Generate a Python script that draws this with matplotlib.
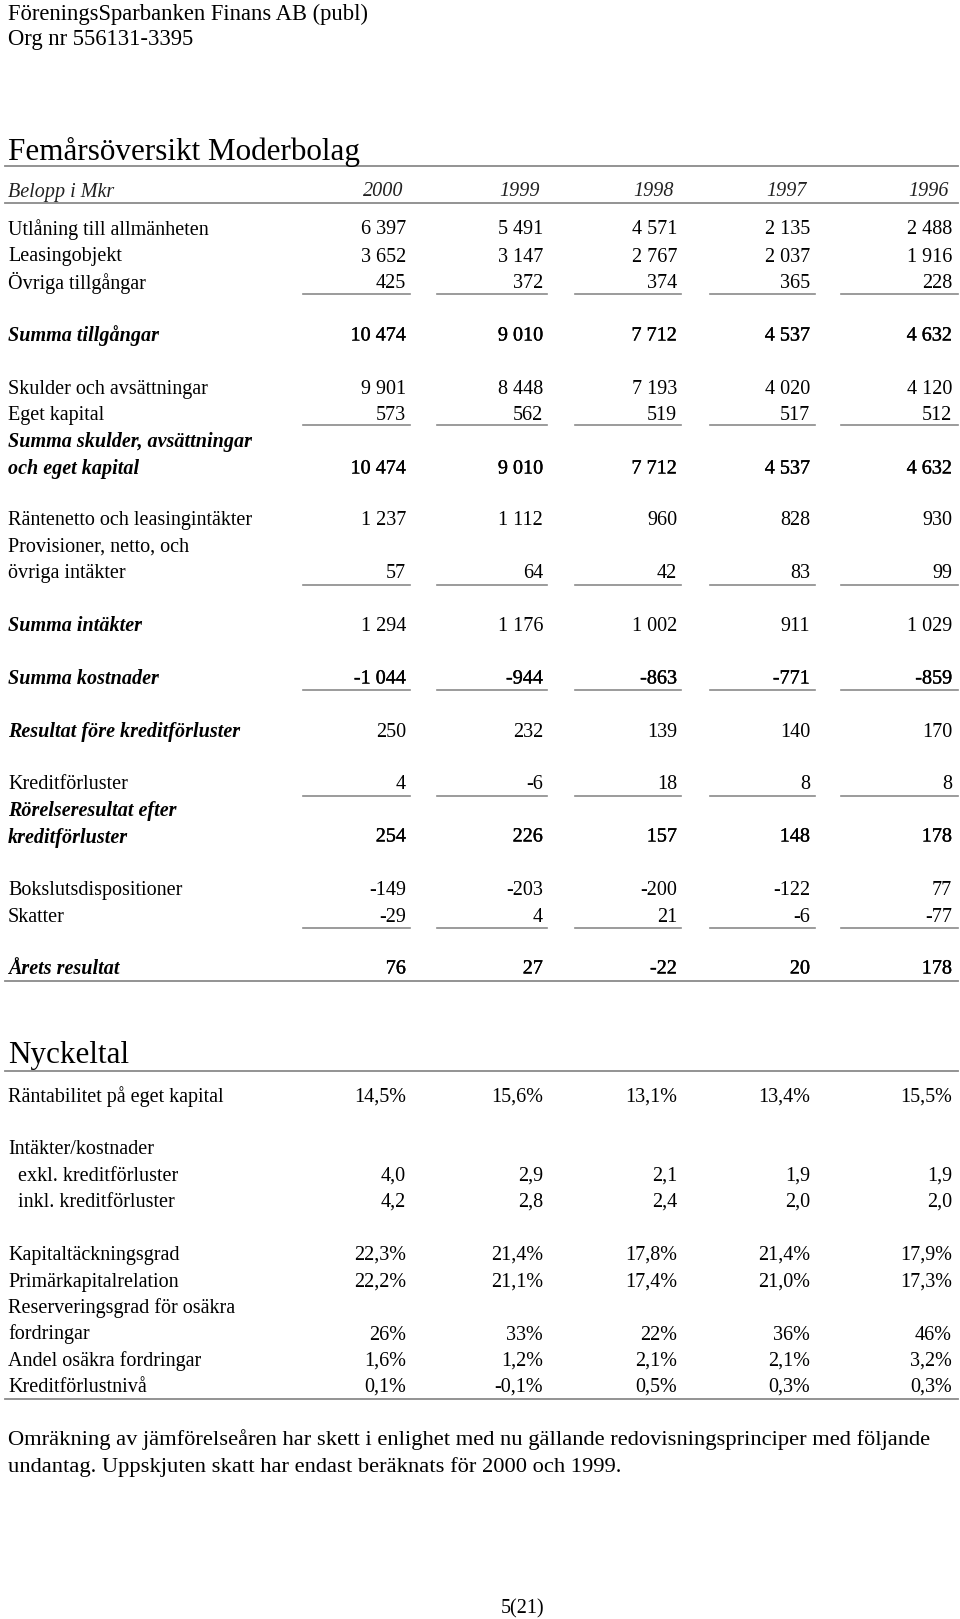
import matplotlib
matplotlib.use("Agg")
import matplotlib.pyplot as plt
import matplotlib.patheffects as pe

plt.rcParams['font.family'] = ['Liberation Serif', 'DejaVu Serif']

# Data
years = [2000, 1999, 1998, 1997, 1996]

utlaning = [6397, 5491, 4571, 2135, 2488]
leasingobjekt = [3652, 3147, 2767, 2037, 1916]
ovriga_tillgangar = [425, 372, 374, 365, 228]
summa_tillgangar = [10474, 9010, 7712, 4537, 4632]
skulder = [9901, 8448, 7193, 4020, 4120]
eget_kapital = [573, 562, 519, 517, 512]
summa_skulder = [10474, 9010, 7712, 4537, 4632]
rantenetto = [1237, 1112, 960, 828, 930]
provisioner = [57, 64, 42, 83, 99]
summa_intakter = [1294, 1176, 1002, 911, 1029]
summa_kostnader = [-1044, -944, -863, -771, -859]
resultat_fore = [250, 232, 139, 140, 170]
kreditforluster = [4, -6, 18, 8, 8]
rorelseresultat = [254, 226, 157, 148, 178]
bokslut = [-149, -203, -200, -122, 77]
skatter = [-29, 4, 21, -6, -77]
arets_resultat = [76, 27, -22, 20, 178]

rantabilitet = [14.5, 15.6, 13.1, 13.4, 15.5]
exkl_kredit = [4.0, 2.9, 2.1, 1.9, 1.9]
inkl_kredit = [4.2, 2.8, 2.4, 2.0, 2.0]
kapitaltackning = [22.3, 21.4, 17.8, 21.4, 17.9]
primarkapital = [22.2, 21.1, 17.4, 21.0, 17.3]
reservering = [26, 33, 22, 36, 46]
andel_osakra = [1.6, 1.2, 2.1, 2.1, 3.2]
kreditforlustniva = [0.1, -0.1, 0.5, 0.3, 0.3]


def fmt_int(v):
    s = f"{abs(v):,}".replace(",", " ")
    return ("-" if v < 0 else "") + s


def fmt_dec(v):
    return f"{v:.1f}".replace(".", ",")


def fmt_pct(v):
    return fmt_dec(v) + "%"


def fmt_pct0(v):
    return f"{v:.0f}%"


fig = plt.figure(figsize=(9.6, 16.19), dpi=100)
ax = fig.add_axes([0, 0, 1, 1])
ax.set_xlim(0, 960)
ax.set_ylim(1619, 0)
ax.axis("off")

col_right = [406, 543, 677, 810, 952]
seg_x = [(303, 410), (437, 547), (575, 681), (710, 815), (841, 958)]
left = 8
dy = 2  # va="center" sits a little high for this font
body = 14.5
line_col = "#8a8a8a"
heavy = [pe.withStroke(linewidth=0.25, foreground="black")]


def txt(x, y, s, **kw):
    kw.setdefault("fontsize", body)
    ax.text(x, y + dy, s, va="center", **kw)


def full_line(y):
    ax.plot([5, 958], [y, y], color=line_col, lw=1.3)


def seg_lines(y):
    for x0, x1 in seg_x:
        ax.plot([x0, x1], [y, y], color=line_col, lw=1.2)


def row(label, vals, y, fmt=fmt_int, label_y=None, indent=0, summa=False, heavy_vals=False):
    ly = y if label_y is None else label_y
    if isinstance(label, str):
        label = [label]
    for i, t in enumerate(label):
        txt(left + indent, ly + i * 26.5, t,
            style="italic" if summa else "normal",
            weight="bold" if summa else "normal")
    for xr, v in zip(col_right, vals):
        txt(xr, y, fmt(v), ha="right", path_effects=heavy if heavy_vals else None)


# Header
txt(left, 12, "FöreningsSparbanken Finans AB (publ)", fontsize=16.3)
txt(left, 38, "Org nr 556131-3395", fontsize=16.3)

txt(left, 150, "Femårsöversikt Moderbolag", fontsize=22.4)
full_line(166)
txt(left, 190, "Belopp i Mkr", style="italic", color="#222222")
for xr, yr in zip(col_right, years):
    txt(xr - 3, 190, str(yr), ha="right", style="italic", color="#222222")
full_line(203)

row("Utlåning till allmänheten", utlaning, 228)
row("Leasingobjekt", leasingobjekt, 255)
row("Övriga tillgångar", ovriga_tillgangar, 281)
seg_lines(294)
row("Summa tillgångar", summa_tillgangar, 334, summa=True, heavy_vals=True)
row("Skulder och avsättningar", skulder, 387)
row("Eget kapital", eget_kapital, 413)
seg_lines(425)
row(["Summa skulder, avsättningar", "och eget kapital"], summa_skulder, 467,
    label_y=440, summa=True, heavy_vals=True)
row("Räntenetto och leasingintäkter", rantenetto, 518)
row(["Provisioner, netto, och", "övriga intäkter"], provisioner, 571, label_y=545)
seg_lines(585)
row("Summa intäkter", summa_intakter, 624, summa=True)
row("Summa kostnader", summa_kostnader, 677, summa=True, heavy_vals=True)
seg_lines(690)
row("Resultat före kreditförluster", resultat_fore, 730, summa=True)
row("Kreditförluster", kreditforluster, 782)
seg_lines(796)
row(["Rörelseresultat efter", "kreditförluster"], rorelseresultat, 835,
    label_y=809, summa=True, heavy_vals=True)
row("Bokslutsdispositioner", bokslut, 888)
row("Skatter", skatter, 915)
seg_lines(928)
row("Årets resultat", arets_resultat, 967, summa=True, heavy_vals=True)
full_line(981)

# Nyckeltal
txt(left, 1053, "Nyckeltal", fontsize=22.4)
full_line(1071)
row("Räntabilitet på eget kapital", rantabilitet, 1095, fmt=fmt_pct)
txt(left, 1147, "Intäkter/kostnader")
row("exkl. kreditförluster", exkl_kredit, 1174, fmt=fmt_dec, indent=10)
row("inkl. kreditförluster", inkl_kredit, 1200, fmt=fmt_dec, indent=10)
row("Kapitaltäckningsgrad", kapitaltackning, 1253, fmt=fmt_pct)
row("Primärkapitalrelation", primarkapital, 1280, fmt=fmt_pct)
row(["Reserveringsgrad för osäkra", "fordringar"], reservering, 1333,
    fmt=fmt_pct0, label_y=1306)
row("Andel osäkra fordringar", andel_osakra, 1359, fmt=fmt_pct)
row("Kreditförlustnivå", kreditforlustniva, 1385, fmt=fmt_pct)
full_line(1399)

txt(left, 1438, "Omräkning av jämförelseåren har skett i enlighet med nu gällande "
    "redovisningsprinciper med följande", fontsize=16.2)
txt(left, 1465, "undantag. Uppskjuten skatt har endast beräknats för 2000 och 1999.",
    fontsize=16.2)
txt(523, 1607, "5(21)", ha="center")

fig.savefig("out.png", dpi=100)
